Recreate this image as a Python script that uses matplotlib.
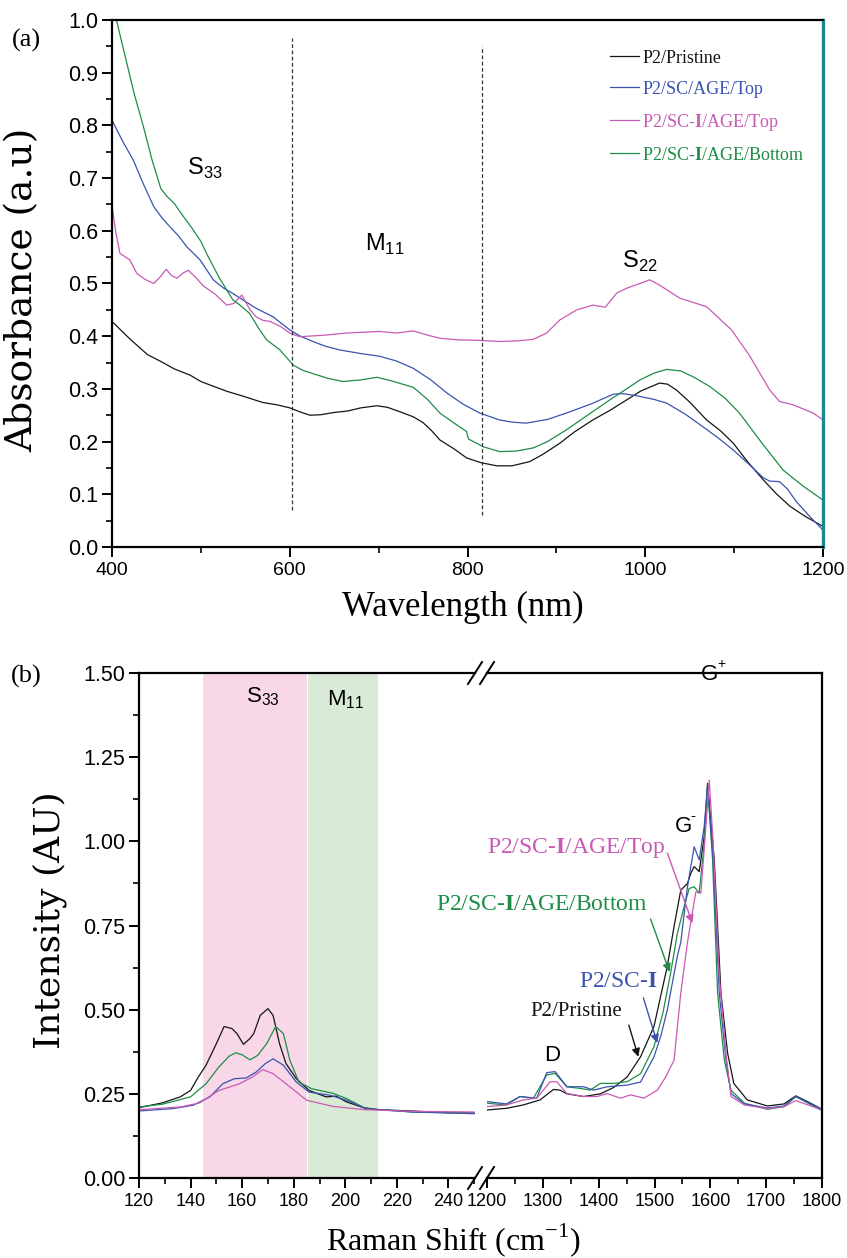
import matplotlib
matplotlib.use('Agg')
import matplotlib.pyplot as plt
from matplotlib.ticker import MultipleLocator, FormatStrFormatter

plt.rcParams['font.family'] = 'Liberation Sans'
plt.rcParams['mathtext.fontset'] = 'custom'
plt.rcParams['mathtext.rm'] = 'Liberation Serif'
plt.rcParams['mathtext.bf'] = 'Liberation Serif:bold'
plt.rcParams['mathtext.sf'] = 'Liberation Sans'

C_BLACK = '#151515'
C_BLUE = '#3a53b0'
C_MAG = '#c95ab4'
C_GREEN = '#1f8c47'
SERIF = 'Liberation Serif'
WIDE_SERIF = 'DejaVu Serif'

# ---- (a) UV-vis-NIR absorbance ----
wl_black = [400, 420, 440, 455, 470, 488, 500, 514, 530, 544, 557, 570, 585, 600, 612, 623,
            635, 649, 665, 680, 698, 710, 725, 739, 750, 760, 769, 785, 799, 815, 833, 850,
            870, 885, 904, 920, 941, 960, 979, 995, 1016, 1025, 1035, 1050, 1069, 1085, 1099,
            1115, 1133, 1148, 1163, 1180, 1200]
abs_black = [0.428, 0.395, 0.365, 0.352, 0.338, 0.326, 0.314, 0.305, 0.295, 0.288, 0.281, 0.274,
             0.270, 0.264, 0.256, 0.250, 0.251, 0.255, 0.258, 0.264, 0.268, 0.265, 0.256, 0.247,
             0.236, 0.220, 0.203, 0.186, 0.169, 0.160, 0.154, 0.154, 0.162, 0.176, 0.197, 0.218,
             0.241, 0.259, 0.279, 0.296, 0.311, 0.309, 0.298, 0.275, 0.241, 0.220, 0.197, 0.162,
             0.127, 0.100, 0.077, 0.058, 0.039]

wl_blue = [400, 412, 424, 435, 447, 456, 465, 475, 484, 499, 514, 525, 536, 550, 562, 581, 600,
           612, 626, 640, 656, 680, 701, 720, 739, 758, 777, 795, 814, 836, 850, 866, 890, 911,
           940, 964, 975, 990, 1010, 1024, 1045, 1065, 1082, 1099, 1116, 1133, 1140, 1151, 1160,
           1170, 1185, 1200]
abs_blue = [0.810, 0.770, 0.734, 0.690, 0.646, 0.625, 0.608, 0.590, 0.570, 0.545, 0.507, 0.492,
            0.481, 0.466, 0.453, 0.437, 0.412, 0.400, 0.390, 0.381, 0.374, 0.367, 0.362, 0.353,
            0.339, 0.318, 0.292, 0.271, 0.254, 0.241, 0.237, 0.235, 0.242, 0.254, 0.272, 0.290,
            0.291, 0.287, 0.280, 0.273, 0.252, 0.228, 0.207, 0.184, 0.158, 0.131, 0.125, 0.124,
            0.110, 0.086, 0.058, 0.032]

wl_mag = [400, 404, 409, 420, 428, 437, 447, 454, 461, 467, 473, 480, 486, 495, 503, 516, 529,
          537, 546, 555, 562, 570, 578, 590, 600, 611, 640, 664, 701, 720, 739, 755, 769, 790,
          814, 836, 855, 874, 889, 904, 923, 941, 955, 968, 979, 994, 1005, 1016, 1039, 1069,
          1097, 1117, 1140, 1151, 1166, 1189, 1200]
abs_mag = [0.649, 0.600, 0.557, 0.545, 0.519, 0.508, 0.500, 0.512, 0.527, 0.515, 0.510, 0.520,
           0.525, 0.510, 0.495, 0.480, 0.459, 0.462, 0.478, 0.451, 0.437, 0.430, 0.428, 0.418,
           0.406, 0.399, 0.402, 0.406, 0.409, 0.406, 0.410, 0.402, 0.396, 0.393, 0.392, 0.390,
           0.391, 0.394, 0.406, 0.431, 0.450, 0.459, 0.455, 0.482, 0.491, 0.500, 0.507, 0.497,
           0.472, 0.456, 0.412, 0.364, 0.298, 0.276, 0.270, 0.254, 0.241]

wl_green = [400, 405, 415, 425, 435, 445, 455, 462, 470, 480, 490, 500, 507, 521, 536, 544, 555,
            565, 574, 589, 604, 615, 626, 643, 660, 680, 698, 715, 739, 755, 769, 785, 799, 801,
            818, 836, 855, 874, 890, 911, 935, 960, 978, 994, 1010, 1024, 1040, 1055, 1073,
            1090, 1106, 1130, 1155, 1178, 1200]
abs_green = [1.030, 1.000, 0.930, 0.860, 0.800, 0.735, 0.680, 0.665, 0.652, 0.628, 0.605, 0.580,
             0.555, 0.510, 0.469, 0.459, 0.443, 0.415, 0.393, 0.374, 0.345, 0.335, 0.329, 0.320,
             0.314, 0.317, 0.322, 0.315, 0.303, 0.280, 0.254, 0.235, 0.219, 0.205, 0.190, 0.181,
             0.182, 0.188, 0.200, 0.222, 0.250, 0.279, 0.299, 0.317, 0.330, 0.337, 0.334, 0.322,
             0.304, 0.282, 0.254, 0.200, 0.146, 0.115, 0.089]

uv_names = ['P2/Pristine', 'P2/SC/AGE/Top', r'P2/SC-$\mathbf{I}$/AGE/Top', r'P2/SC-$\mathbf{I}$/AGE/Bottom']
region_lines = [602, 816]

# ---- (b) Raman, RBM region ----
rs_lo_black = [120, 129, 136, 140, 143, 146, 150, 153, 156, 158, 160.5, 163, 164.5, 167, 170,
               172, 174.5, 177, 181, 186, 192.5, 196.5, 200.5, 207, 213, 226, 239, 250]
int_lo_black = [0.209, 0.223, 0.241, 0.260, 0.300, 0.335, 0.399, 0.450, 0.444, 0.429, 0.397,
                0.414, 0.429, 0.483, 0.503, 0.483, 0.399, 0.340, 0.295, 0.260, 0.241, 0.243,
                0.226, 0.209, 0.203, 0.199, 0.194, 0.193]

rs_lo_green = [120, 129, 140, 146, 151, 155, 157.5, 160, 163, 166, 169.5, 173, 176, 178.5, 182,
               187, 195, 200.5, 208, 213, 226, 250]
int_lo_green = [0.211, 0.219, 0.241, 0.280, 0.330, 0.362, 0.372, 0.366, 0.351, 0.364, 0.399,
                0.450, 0.429, 0.350, 0.285, 0.265, 0.252, 0.236, 0.206, 0.203, 0.196, 0.193]

rs_lo_blue = [120, 133, 141, 147.5, 152.5, 157, 161.5, 165.5, 169, 172, 176, 181, 186, 194,
              200.5, 208, 226, 250]
int_lo_blue = [0.199, 0.206, 0.216, 0.241, 0.280, 0.295, 0.297, 0.315, 0.340, 0.354, 0.335,
               0.285, 0.255, 0.246, 0.231, 0.206, 0.196, 0.191]

rs_lo_mag = [120, 136, 143.5, 151, 159, 164, 168, 172, 177, 185, 195, 207, 226, 250]
int_lo_mag = [0.203, 0.211, 0.223, 0.260, 0.280, 0.300, 0.322, 0.310, 0.280, 0.231, 0.213,
              0.203, 0.198, 0.196]

# ---- (b) Raman, D / G region ----
rs_hi_black = [1200, 1235, 1265, 1295, 1319, 1331, 1343, 1373, 1403, 1427, 1451, 1475, 1499,
               1523, 1535, 1547, 1559, 1565, 1571, 1580, 1589, 1595, 1607, 1619, 1631, 1642,
               1666, 1702, 1732, 1753, 1774, 1800]
int_hi_black = [0.202, 0.207, 0.217, 0.232, 0.263, 0.261, 0.250, 0.242, 0.250, 0.269, 0.300,
                0.360, 0.450, 0.630, 0.747, 0.855, 0.875, 0.905, 0.925, 0.910, 1.014, 1.172,
                0.945, 0.549, 0.370, 0.281, 0.232, 0.214, 0.220, 0.244, 0.227, 0.204]

rs_hi_green = [1200, 1235, 1259, 1283, 1307, 1322, 1343, 1367, 1385, 1403, 1427, 1451, 1475,
               1499, 1515, 1529, 1541, 1553, 1562, 1571, 1580, 1589, 1595, 1604, 1613, 1625,
               1637, 1661, 1702, 1732, 1753, 1800]
int_hi_green = [0.222, 0.217, 0.242, 0.237, 0.306, 0.311, 0.271, 0.266, 0.261, 0.281, 0.281,
                0.286, 0.310, 0.390, 0.490, 0.610, 0.727, 0.806, 0.860, 0.865, 0.846, 0.994,
                1.167, 0.945, 0.549, 0.350, 0.261, 0.222, 0.204, 0.212, 0.242, 0.200]

rs_hi_blue = [1200, 1235, 1259, 1289, 1307, 1322, 1343, 1373, 1391, 1415, 1451, 1475, 1499,
              1511, 1523, 1541, 1547, 1559, 1571, 1580, 1589, 1595, 1605, 1616, 1628, 1637,
              1661, 1702, 1732, 1753, 1800]
int_hi_blue = [0.227, 0.220, 0.242, 0.237, 0.313, 0.316, 0.271, 0.271, 0.261, 0.271, 0.276,
               0.285, 0.360, 0.420, 0.500, 0.660, 0.700, 0.865, 0.984, 0.945, 1.044, 1.167,
               0.945, 0.549, 0.350, 0.251, 0.220, 0.208, 0.214, 0.242, 0.204]

rs_hi_mag = [1200, 1235, 1265, 1289, 1313, 1325, 1343, 1373, 1397, 1415, 1439, 1457, 1481,
             1505, 1520, 1535, 1547, 1559, 1565, 1574, 1583, 1592, 1598, 1605, 1616, 1628,
             1637, 1661, 1702, 1732, 1753, 1800]
int_hi_mag = [0.212, 0.217, 0.232, 0.237, 0.286, 0.286, 0.251, 0.242, 0.242, 0.251, 0.237,
              0.247, 0.237, 0.261, 0.300, 0.350, 0.549, 0.700, 0.760, 0.850, 0.846, 1.044,
              1.182, 0.994, 0.598, 0.370, 0.242, 0.217, 0.206, 0.212, 0.230, 0.202]

s33_band = (144.7, 185)
m11_band = (185, 212.5)

fig = plt.figure(figsize=(8.47, 12.58), dpi=100)


def style_ticks(ax, xlab, ylab):
    ax.tick_params(which='major', direction='out', length=7, width=1.4)
    ax.tick_params(which='minor', direction='out', length=4.5, width=1.2)
    ax.tick_params(axis='x', labelsize=xlab, pad=4)
    ax.tick_params(axis='y', labelsize=ylab, pad=3)
    ax.tick_params(which='both', top=False, right=False)
    for sp in ax.spines.values():
        sp.set_linewidth(1.6)


# (a)
ax1 = fig.add_axes([0.1322, 0.5652, 0.8395, 0.4189])
ax1.plot(wl_black, abs_black, color=C_BLACK, lw=0.9, label=uv_names[0])
ax1.plot(wl_blue, abs_blue, color=C_BLUE, lw=0.9, label=uv_names[1])
ax1.plot(wl_mag, abs_mag, color=C_MAG, lw=0.9, label=uv_names[2])
ax1.plot(wl_green, abs_green, color=C_GREEN, lw=0.9, label=uv_names[3])
ax1.plot([region_lines[0]] * 2, [0.070, 0.966], color='#333333', lw=0.9, ls=(0, (3, 2)))
ax1.plot([region_lines[1]] * 2, [0.061, 0.950], color='#333333', lw=0.9, ls=(0, (3, 2)))
ax1.set_xlim(400, 1200)
ax1.set_ylim(0, 1.0)
ax1.xaxis.set_major_locator(MultipleLocator(200))
ax1.xaxis.set_minor_locator(MultipleLocator(100))
ax1.yaxis.set_major_locator(MultipleLocator(0.1))
ax1.yaxis.set_minor_locator(MultipleLocator(0.05))
ax1.yaxis.set_major_formatter(FormatStrFormatter('%.1f'))
style_ticks(ax1, 14, 15.5)
ax1.spines['right'].set_color('#1b8a8c')
ax1.spines['right'].set_linewidth(2.4)

leg = ax1.legend(loc='upper left', bbox_to_anchor=(0.700, 0.944), frameon=False,
                 borderpad=0, borderaxespad=0, handlelength=1.6, handletextpad=0.2,
                 labelspacing=0.78, prop={'family': SERIF, 'size': 13})
for txt, c in zip(leg.get_texts(), [C_BLACK, C_BLUE, C_MAG, C_GREEN]):
    txt.set_color(c)

ax1.text(505, 0.719, r'S$_{\mathsf{33}}$', fontsize=17, ha='center', va='center')
ax1.text(707, 0.575, r'M$_{\mathsf{11}}$', fontsize=17, ha='center', va='center')
ax1.text(994, 0.541, r'S$_{\mathsf{22}}$', fontsize=17, ha='center', va='center')

fig.text(0.5466, 0.5175, 'Wavelength (nm)', family=SERIF, fontsize=25, ha='center', va='center')
fig.text(0.026, 0.7695, 'Absorbance (a.u)', family=WIDE_SERIF, fontsize=27, ha='center',
         va='center', rotation=90)
fig.text(0.031, 0.968, '(a)', family=SERIF, fontsize=19, ha='center', va='center')

# (b) broken x axis
axl = fig.add_axes([0.1641, 0.0636, 0.3967, 0.4014])
axr = fig.add_axes([0.5750, 0.0636, 0.3955, 0.4014])

axl.axvspan(*s33_band, color='#f8d7e8', lw=0)
axl.axvspan(*m11_band, color='#d9ebd6', lw=0)
axl.axvline(185, color='white', lw=0.8)
axl.plot(rs_lo_black, int_lo_black, color=C_BLACK, lw=0.9)
axl.plot(rs_lo_green, int_lo_green, color=C_GREEN, lw=0.9)
axl.plot(rs_lo_blue, int_lo_blue, color=C_BLUE, lw=0.9)
axl.plot(rs_lo_mag, int_lo_mag, color=C_MAG, lw=0.9)

axr.plot(rs_hi_black, int_hi_black, color=C_BLACK, lw=0.9)
axr.plot(rs_hi_green, int_hi_green, color=C_GREEN, lw=0.9)
axr.plot(rs_hi_blue, int_hi_blue, color=C_BLUE, lw=0.9)
axr.plot(rs_hi_mag, int_hi_mag, color=C_MAG, lw=0.9)

axl.set_xlim(120, 250.3)
axr.set_xlim(1200, 1800)
for ax in (axl, axr):
    ax.set_ylim(0, 1.5)
    ax.yaxis.set_major_locator(MultipleLocator(0.25))
    ax.yaxis.set_minor_locator(MultipleLocator(0.125))
    ax.yaxis.set_major_formatter(FormatStrFormatter('%.2f'))
    style_ticks(ax, 13, 15.5)
axl.xaxis.set_major_locator(MultipleLocator(20))
axl.xaxis.set_minor_locator(MultipleLocator(10))
axr.xaxis.set_major_locator(MultipleLocator(100))
axr.xaxis.set_minor_locator(MultipleLocator(50))
axl.spines['right'].set_visible(False)
axr.spines['left'].set_visible(False)
axr.tick_params(which='both', left=False, labelleft=False)

# break marks
for ax, xb in ((axl, 1), (axr, 0)):
    dx = 7 / 336
    dy = 11 / 505
    for yb in (0, 1):
        ax.plot([xb - dx, xb + dx], [yb - dy, yb + dy], transform=ax.transAxes,
                color='black', lw=1.4, clip_on=False)

axl.text(168, 1.43, r'S$_{\mathsf{33}}$', fontsize=16, ha='center', va='center')
axl.text(200, 1.42, r'M$_{\mathsf{11}}$', fontsize=16, ha='center', va='center')
axr.text(1317, 0.365, 'D', fontsize=16, ha='center', va='center')
axr.text(1552, 1.045, 'G', fontsize=16, ha='center', va='center')
axr.annotate('-', xy=(1552, 1.045), xytext=(7, 7), textcoords='offset points',
             fontsize=11, ha='center', va='center')
axr.text(1599, 1.497, 'G', fontsize=16, ha='center', va='center')
axr.annotate('+', xy=(1599, 1.497), xytext=(8, 7), textcoords='offset points',
             fontsize=10, ha='center', va='center')

axr.text(1360, 0.980, r'P2/SC-$\mathbf{I}$/AGE/Top', family=SERIF, fontsize=17,
         color=C_MAG, ha='center', va='center')
axr.text(1299, 0.811, r'P2/SC-$\mathbf{I}$/AGE/Bottom', family=SERIF, fontsize=17,
         color=C_GREEN, ha='center', va='center')
axr.text(1435, 0.585, r'P2/SC-$\mathbf{I}$', family=SERIF, fontsize=17,
         color=C_BLUE, ha='center', va='center')
axr.text(1360, 0.496, 'P2/Pristine', family=SERIF, fontsize=15,
         color=C_BLACK, ha='center', va='center')

arrows = [((1523, 0.965), (1568, 0.757), C_MAG),
          ((1493, 0.769), (1527, 0.612), C_GREEN),
          ((1480, 0.535), (1505, 0.401), C_BLUE),
          ((1454, 0.454), (1471, 0.360), C_BLACK)]
for tail, head, c in arrows:
    axr.annotate('', xy=head, xytext=tail,
                 arrowprops=dict(arrowstyle='-|>', color=c, lw=1.0, mutation_scale=12,
                                 shrinkA=0, shrinkB=0))

fig.text(0.535, 0.0145, r'Raman Shift (cm$^{-1}$)', family=SERIF, fontsize=23,
         ha='center', va='center')
fig.text(0.059, 0.2687, 'Intensity (AU)', family=WIDE_SERIF, fontsize=26, ha='center',
         va='center', rotation=90)
fig.text(0.031, 0.4626, '(b)', family=SERIF, fontsize=19, ha='center', va='center')

fig.savefig('out.png', dpi=100)
